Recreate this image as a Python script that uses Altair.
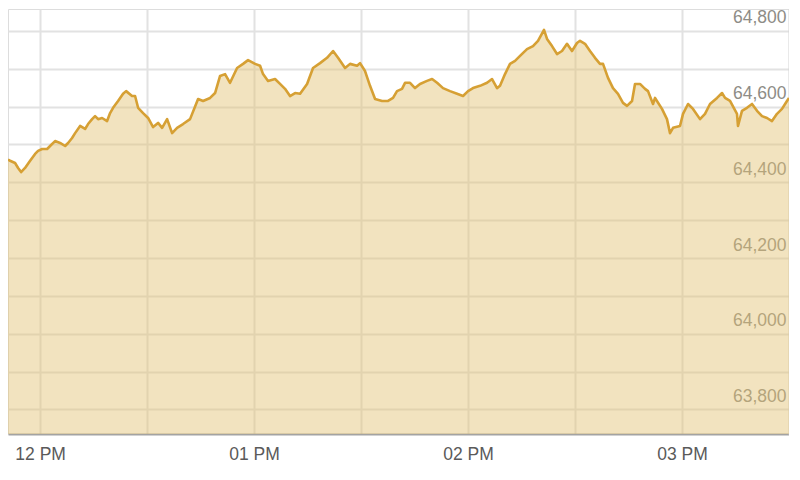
import altair as alt
import pandas as pd

# Intraday index readings (time of day, index level)
times = [
    "11:51:00", "11:51:35", "11:52:59", "11:53:50", "11:54:40", "11:55:47", "11:57:12", "11:58:36",
    "11:59:26", "12:00:34", "12:01:58", "12:02:48", "12:04:12", "12:05:36", "12:07:01", "12:07:51",
    "12:08:58", "12:09:49", "12:11:13", "12:12:37", "12:13:27", "12:14:35", "12:15:25", "12:16:16",
    "12:17:23", "12:18:47", "12:19:38", "12:20:28", "12:21:52", "12:23:16", "12:24:07", "12:25:47",
    "12:26:38", "12:27:29", "12:28:53", "12:30:17", "12:31:41", "12:33:05", "12:34:13", "12:35:37",
    "12:37:01", "12:38:25", "12:40:05", "12:42:03", "12:44:18", "12:45:42", "12:47:40", "12:49:04",
    "12:50:28", "12:51:52", "12:53:16", "12:55:14", "12:56:55", "12:58:19", "13:00:17", "13:01:41",
    "13:02:31", "13:03:55", "13:05:53", "13:07:17", "13:08:41", "13:10:05", "13:11:30", "13:12:54",
    "13:14:52", "13:16:32", "13:18:30", "13:20:28", "13:22:09", "13:23:33", "13:25:31", "13:26:55",
    "13:28:53", "13:29:43", "13:31:07", "13:32:31", "13:33:56", "13:35:53", "13:37:34", "13:38:58",
    "13:40:05", "13:41:29", "13:42:20", "13:43:44", "13:45:08", "13:46:32", "13:48:30", "13:49:55",
    "13:51:19", "13:52:59", "13:54:57", "13:56:55", "13:58:36", "14:00:00", "14:01:24", "14:03:22",
    "14:05:20", "14:06:44", "14:08:08", "14:08:58", "14:10:22", "14:11:46", "14:13:11", "14:14:35",
    "14:16:32", "14:18:13", "14:19:37", "14:21:18", "14:22:09", "14:23:33", "14:24:57", "14:26:21",
    "14:27:45", "14:29:09", "14:30:33", "14:31:24", "14:32:48", "14:34:12", "14:35:36", "14:37:00",
    "14:37:51", "14:39:15", "14:40:39", "14:42:03", "14:43:27", "14:44:35", "14:45:59", "14:46:49",
    "14:48:13", "14:49:38", "14:50:28", "14:51:52", "14:52:26", "14:54:23", "14:55:47", "14:56:38",
    "14:57:29", "14:59:26", "15:00:17", "15:01:41", "15:03:05", "15:05:03", "15:06:27", "15:07:51",
    "15:09:49", "15:11:13", "15:12:04", "15:13:28", "15:15:25", "15:15:42", "15:16:49", "15:18:13",
    "15:19:38", "15:21:02", "15:22:26", "15:23:50", "15:25:14", "15:26:38", "15:28:02", "15:29:26",
    "15:30:00",
]
values = [
    64460, 64457, 64451, 64438, 64427, 64438, 64457, 64475,
    64483, 64488, 64488, 64496, 64509, 64504, 64496, 64504,
    64517, 64530, 64549, 64541, 64554, 64567, 64575, 64567,
    64570, 64562, 64583, 64597, 64615, 64634, 64641, 64628,
    64628, 64597, 64583, 64570, 64546, 64557, 64544, 64567,
    64530, 64544, 64554, 64567, 64620, 64615, 64623, 64636,
    64681, 64686, 64663, 64702, 64713, 64723, 64713, 64708,
    64686, 64668, 64673, 64660, 64647, 64628, 64636, 64634,
    64660, 64702, 64715, 64729, 64747, 64729, 64702, 64713,
    64708, 64715, 64694, 64655, 64620, 64615, 64615, 64623,
    64641, 64647, 64663, 64663, 64649, 64660, 64668, 64673,
    64663, 64649, 64641, 64634, 64628, 64641, 64649, 64655,
    64663, 64673, 64649, 64655, 64686, 64713, 64721, 64734,
    64752, 64760, 64774, 64803, 64779, 64760, 64739, 64747,
    64766, 64747, 64768, 64774, 64766, 64747, 64729, 64713,
    64713, 64676, 64649, 64634, 64610, 64602, 64615, 64660,
    64660, 64647, 64641, 64607, 64623, 64594, 64567, 64530,
    64544, 64549, 64581, 64607, 64594, 64567, 64581, 64607,
    64623, 64636, 64623, 64615, 64581, 64549, 64589, 64597,
    64607, 64589, 64575, 64570, 64562, 64581, 64594, 64615,
    64623,
]

DAY = "2024-01-02"
df = pd.DataFrame({"time": [f"{DAY}T{t}" for t in times], "value": values})


def dt(h, m):
    return alt.DateTime(year=2024, month=1, date=2, hours=h, minutes=m)


x_start, x_end = dt(11, 51), dt(15, 30)
x_grid = [dt(12, 0), dt(12, 30), dt(13, 0), dt(13, 30), dt(14, 0), dt(14, 30), dt(15, 0)]
y_min, y_max = 63735, 64858
y_grid = [63800, 63900, 64000, 64100, 64200, 64300, 64400, 64500, 64600, 64700, 64800]

x_enc = alt.X(
    "time:T",
    title=None,
    scale=alt.Scale(domain=[x_start, x_end], nice=False),
    axis=alt.Axis(
        values=x_grid,
        labelExpr="minutes(datum.value) == 0 ? timeFormat(datum.value, '%I %p') : ''",
        grid=True,
        gridColor="#e2e2e2",
        gridWidth=2,
        ticks=False,
        tickSize=0,
        domainColor="#a3a3a3",
        domainWidth=2,
        labelColor="#5a5a5a",
        labelFontSize=17.5,
        labelFont="Liberation Sans",
        labelPadding=11,
        labelFlush=False,
        labelOverlap=False,
    ),
)
y_enc = alt.Y(
    "value:Q",
    title=None,
    scale=alt.Scale(domain=[y_min, y_max], nice=False, zero=False),
    axis=alt.Axis(
        orient="right",
        values=y_grid,
        labelExpr="datum.value % 200 == 0 ? format(datum.value, ',') : ''",
        grid=True,
        gridColor="#e2e2e2",
        gridWidth=2,
        ticks=False,
        tickSize=0,
        domainColor="#d4d4d4",
        domainWidth=2,
        labelAlign="right",
        labelBaseline="alphabetic",
        labelPadding=-3,
        labelOffset=-8,
        labelColor="#8e8c86",
        labelFontSize=17.5,
        labelFont="Liberation Sans",
        labelOverlap=False,
        labelFlush=False,
    ),
)

base = alt.Chart(df).encode(x=x_enc, y=y_enc)

area = base.mark_area(color="#e3c272", fillOpacity=0.45, clip=True).encode(y2=alt.datum(y_min))
line = base.mark_line(color="#d6a034", strokeWidth=2.6, strokeJoin="round", clip=True)

chart = (
    alt.layer(area, line)
    .properties(width=781, height=425, padding=0)
    .configure_view(stroke=None)
    .configure(font="Liberation Sans", background="white")
)

chart.save("out.html", embed_options={"renderer": "svg", "actions": False})
